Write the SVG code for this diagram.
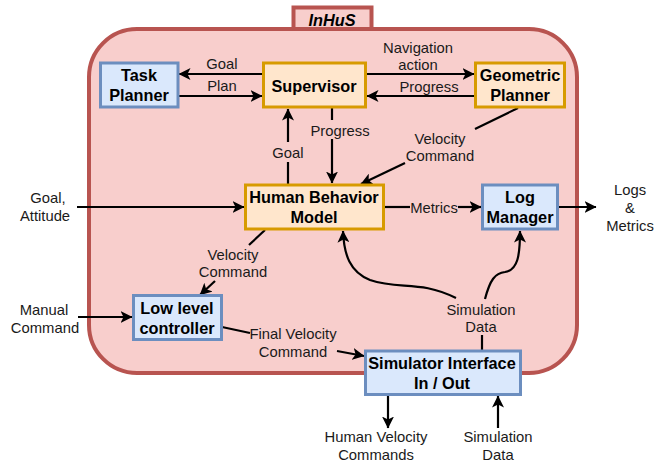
<svg xmlns="http://www.w3.org/2000/svg" width="665" height="466" viewBox="0 0 665 466">
<style>
text{font-family:"Liberation Sans",Arial,sans-serif;font-size:14.8px;fill:#1a1a1a;text-anchor:middle}
.b{font-weight:bold;font-size:16.3px;fill:#000}
.blue{fill:#dae8fc;stroke:#6c8ebf;stroke-width:3}
.or{fill:#ffe6cc;stroke:#d79b00;stroke-width:3}
.red{fill:#f8cecc;stroke:#b85450;stroke-width:4}
.c{fill:none;stroke:#000;stroke-width:2.2}
.a{marker-end:url(#arr)}
</style>
<defs><marker id="arr" markerUnits="userSpaceOnUse" markerWidth="14" markerHeight="12" refX="11.500" refY="6" orient="auto"><path d="M0 0L12 6L0 12L3 6Z" fill="#000"/></marker></defs>
<g id="container"><rect class="red" x="89" y="29" width="488" height="344" rx="48"/></g>
<g id="title"><rect class="red" x="293.500" y="7.500" width="78" height="21.500"/><text x="332" y="26" style="font-weight:bold;font-style:italic;font-size:16.3px;fill:#000">InHuS</text></g>
<g id="connectors">
<path class="c a" d="M263 74H179"/><path class="c a" d="M179 96H262"/>
<path class="c a" d="M366 74H474"/><path class="c a" d="M475 96H367"/>
<path class="c" d="M288 184V162"/><path class="c a" d="M288 142V109"/>
<path class="c" d="M332 108V120"/><path class="c a" d="M332 139V183"/>
<path class="c" d="M518 108L475 129"/><path class="c a" d="M405 163L361 184"/>
<path class="c a" d="M77 207H244"/>
<path class="c" d="M384 207H410"/><path class="c a" d="M458 207H481"/><path class="c a" d="M558 207H596"/>
<path class="c" d="M265 230L249 245"/><path class="c a" d="M215 281L200 295"/>
<path class="c a" d="M78 317H132"/>
<path class="c" d="M222 327L250 333"/><path class="c a" d="M337 351L364 356"/>
<path class="c" d="M482 350V335"/>
<path class="c a" d="M456 298C420 280 400 290 370 280C350 272 344 255 343 231"/>
<path class="c a" d="M485 299C490 280 495 273 505 272C518 270 520 255 520 231"/>
<path class="c a" d="M388 395V428"/><path class="c a" d="M498 428V396"/>
</g>
<g id="task-planner"><rect class="blue" x="100.500" y="63" width="77.500" height="44"/><text class="b" x="139" y="81">Task</text><text class="b" x="139" y="101">Planner</text></g>
<g id="supervisor"><rect class="or" x="263.500" y="63" width="102" height="44"/><text class="b" x="314" y="92">Supervisor</text></g>
<g id="geometric-planner"><rect class="or" x="475.500" y="63" width="89" height="44"/><text class="b" x="520" y="81">Geometric</text><text class="b" x="520" y="101">Planner</text></g>
<g id="human-behavior-model"><rect class="or" x="245.500" y="185" width="138" height="44"/><text class="b" x="314" y="203">Human Behavior</text><text class="b" x="314" y="223">Model</text></g>
<g id="log-manager"><rect class="blue" x="482.500" y="185" width="75" height="44"/><text class="b" x="520" y="203">Log</text><text class="b" x="520" y="223">Manager</text></g>
<g id="low-level-controller"><rect class="blue" x="133.500" y="295.500" width="88" height="44"/><text class="b" x="177" y="314">Low level</text><text class="b" x="177" y="334">controller</text></g>
<g id="simulator-interface"><rect class="blue" x="365.500" y="351" width="155" height="43.500"/><text class="b" x="442" y="369">Simulator Interface</text><text class="b" x="442" y="389">In / Out</text></g>
<g id="labels">
<text x="222" y="69">Goal</text><text x="222" y="91">Plan</text>
<text x="418" y="53">Navigation</text><text x="418" y="70">action</text>
<text x="429" y="92">Progress</text>
<text x="340" y="136">Progress</text><text x="288" y="158">Goal</text>
<text x="440" y="144">Velocity</text><text x="440" y="161">Command</text>
<text x="48" y="203">Goal,</text><text x="45" y="221">Attitude</text>
<text x="434" y="213">Metrics</text>
<text x="630" y="195">Logs</text><text x="630" y="213">&amp;</text><text x="630" y="231">Metrics</text>
<text x="233" y="260">Velocity</text><text x="233" y="277">Command</text>
<text x="44" y="315">Manual</text><text x="45" y="333">Command</text>
<text x="293" y="339">Final Velocity</text><text x="293" y="357">Command</text>
<text x="481" y="315">Simulation</text><text x="481" y="332">Data</text>
<text x="376" y="442">Human Velocity</text><text x="376" y="460">Commands</text>
<text x="498" y="442">Simulation</text><text x="498" y="460">Data</text>
</g>
</svg>
